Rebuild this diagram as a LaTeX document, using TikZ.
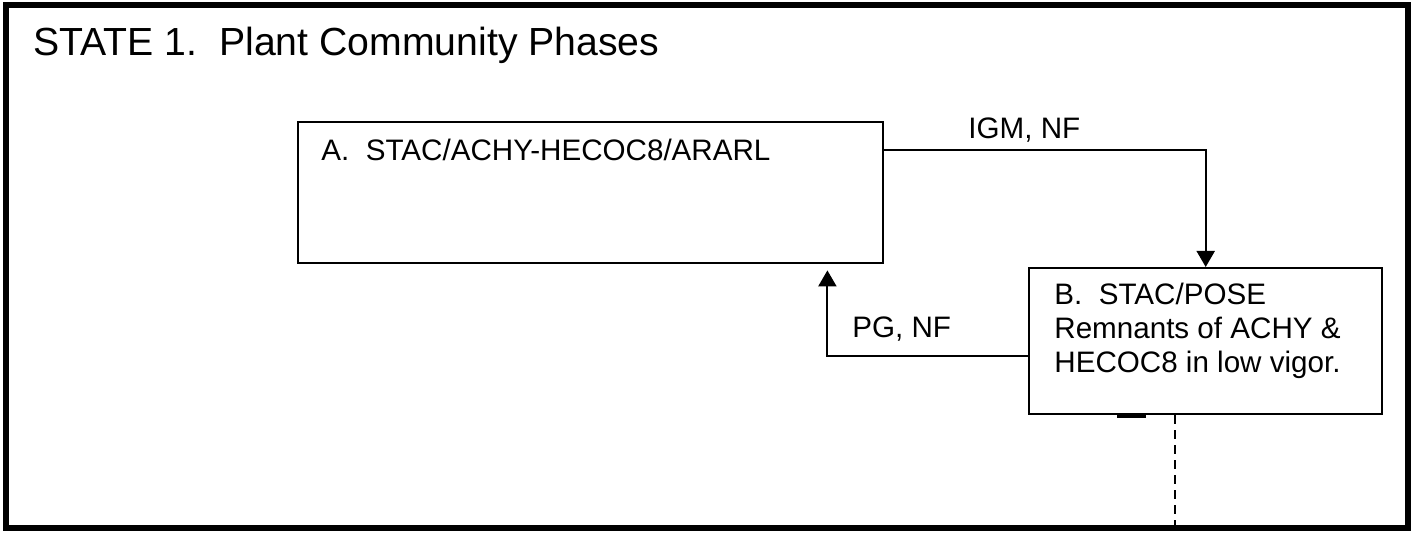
\documentclass[tikz,border=0pt]{standalone}
\usepackage{fontspec}
\setmainfont{Liberation Sans}
\usetikzlibrary{positioning,calc,arrows.meta}
\tikzset{font=\fontsize{14.8}{17}\selectfont}

\begin{document}
\begin{tikzpicture}[x=0.5pt,y=-0.5pt]
	\useasboundingbox (0,0) rectangle (1414,533);
	\tikzstyle{phase}=[draw, line width=1.2pt, inner sep=0pt, anchor=north west]
	\tikzstyle{flow}=[-{Triangle[width=9pt,length=8pt]}, line width=1pt]
	\tikzstyle{txt}=[inner sep=0pt, anchor=base west, align=left]

	% outer frame and heading
	\draw[line width=3pt] (6,5) rectangle (1408,528);
	\node[txt, font=\fontsize{19.6}{24}\selectfont] (title) at (33,56) {STATE 1.\ \ Plant Community Phases};

	% community phases
	\node[phase, minimum width=292.5pt, minimum height=70.5pt] (a) at (297,121) {};
	\node[phase, minimum width=176.5pt, minimum height=73pt] (b) at (1028,267) {};
	\node[txt] (atext) at ($(a.north west)+(24,40)$) {A.\ \ STAC/ACHY-HECOC8/ARARL};
	\node[txt] (btext) at ($(b.north west)+(26,106)$) {B.\ \ STAC/POSE\\Remnants of ACHY \&\\HECOC8 in low vigor.};

	% pathways
	\draw[flow] ($(a.north east)+(0,29)$) -| (b.north);
	\draw[flow, shorten >=3pt] ($(b.west)+(0,15)$) -| ($(a.south east)+(-57,0)$);
	\node[txt] (igm) at (968,139) {IGM, NF};
	\node[txt] (pg) at (852,338) {PG, NF};

	% transition out of the state
	\coordinate (exit) at (1175,528);
	\draw[line width=1pt, dash pattern=on 4.5pt off 3pt] ($(b.south west)+(147,0)$) -- (exit);
	\draw[line width=2.5pt] ($(b.south west)+(89,0)$) -- ($(b.south west)+(118,0)$);
\end{tikzpicture}
\end{document}
